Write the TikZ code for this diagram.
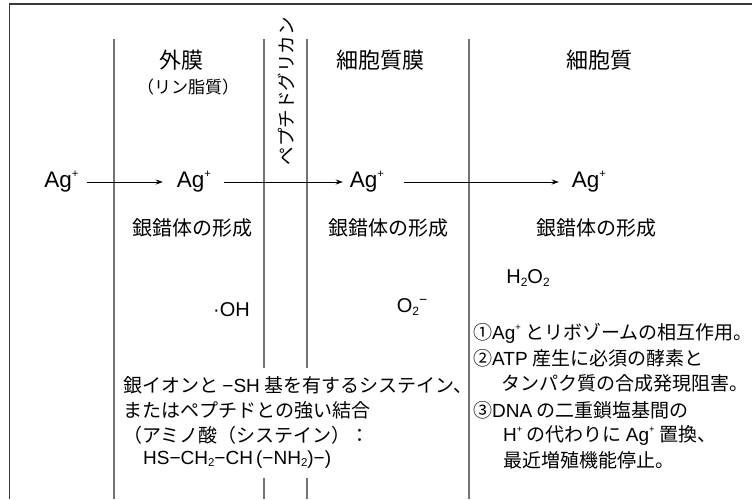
\documentclass[tikz,border=0pt]{standalone}
\usepackage{fontspec}
\setmainfont{Noto Sans CJK JP}
\newfontfamily\lat{Liberation Sans}
\usetikzlibrary{arrows.meta}
\newcommand\myup[1]{\raisebox{0.85ex}{\scalebox{0.5}{#1}}}
\newcommand\mydn[1]{\raisebox{-0.2ex}{\scalebox{0.6}{#1}}}
\begin{document}
\begin{tikzpicture}[x=1pt,y=-1pt,
  frame/.style={draw=black!78, line width=1.4pt},
  divider/.style={draw=black!55, line width=1.1pt},
  flow/.style={-{Stealth[length=7pt,width=5pt]}, line width=0.8pt},
  head/.style={font=\fontsize{22}{26}\selectfont, inner sep=0pt},
  ion/.style={font=\fontsize{22.5}{26}\selectfont\lat, inner sep=0pt},
  body/.style={font=\fontsize{20}{24}\selectfont, inner sep=0pt},
  small/.style={font=\fontsize{17}{20}\selectfont, inner sep=0pt},
  txt/.style={font=\fontsize{19}{23}\selectfont, inner sep=0pt, anchor=west}]
\useasboundingbox (0,0) rectangle (752,499);
% frame and dividers
\draw[frame] (9.5,499) -- (9.5,4) -- (752,4);
\draw[divider] (114,39) -- (114,499);
\draw[divider] (264,39) -- (264,368) (264,478) -- (264,499);
\draw[divider] (307,39) -- (307,368) (307,478) -- (307,499);
\draw[divider] (469,39) -- (469,499);
% headings
\node[head] (gaimaku) at (181,60) {外膜};
\node[small] (lin) at (188,87) {（リン脂質）};
\node[small, font=\fontsize{18.5}{20}\selectfont, rotate=90] (pg) at (286,91) {ペプチドグリカン};
\node[head] (saibomaku) at (380,60) {細胞質膜};
\node[head] (saibo) at (599,60) {細胞質};
% ions and arrows
\node[ion] (ag1) at (61.5,182) {Ag\myup{+}};
\node[ion] (ag2) at (194,182) {Ag\myup{+}};
\node[ion] (ag3) at (367,182) {Ag\myup{+}};
\node[ion] (ag4) at (589,182) {Ag\myup{+}};
\draw[flow, shorten <=8pt, shorten >=14pt] (ag1) -- (ag2);
\draw[flow, shorten <=13pt, shorten >=7pt] (ag2) -- (ag3);
\draw[flow, shorten <=20pt, shorten >=13pt] (ag3) -- (ag4);
% complexes
\node[body] (c1) at (192,228) {銀錯体の形成};
\node[body] (c2) at (388,228) {銀錯体の形成};
\node[body] (c3) at (596,228) {銀錯体の形成};
% radicals
\node[body, anchor=east] (oh) at (250,310) {\lat ·OH};
\node[body] (o2) at (412,307) {\lat O\mydn{2}\raisebox{0.8ex}{\scalebox{0.7}{−}}};
\node[body] (h2o2) at (528,278) {\lat H\mydn{2}O\mydn{2}};
% left text
\node[txt] (l1) at (123,385) {銀イオンと {\lat −SH} 基を有するシステイン、};
\node[txt] (l2) at (123,410) {またはペプチドとの強い結合};
\node[txt] (l3) at (123,435) {（アミノ酸（システイン）：};
\node[txt] (l4) at (143,460) {\lat HS−CH\mydn{2}−CH\,(−NH\mydn{2})−)};
% right list
\node[txt] (r1) at (473,333) {①{\lat Ag\myup{+}} とリボゾームの相互作用。};
\node[txt] (r2) at (473,358) {②{\lat ATP} 産生に必須の酵素と};
\node[txt] (r3) at (501,383) {タンパク質の合成発現阻害。};
\node[txt] (r4) at (473,410) {③{\lat DNA} の二重鎖塩基間の};
\node[txt] (r5) at (503,435) {{\lat H\myup{+}} の代わりに {\lat Ag\myup{+}} 置換、};
\node[txt] (r6) at (503,460) {最近増殖機能停止。};
\end{tikzpicture}
\end{document}
